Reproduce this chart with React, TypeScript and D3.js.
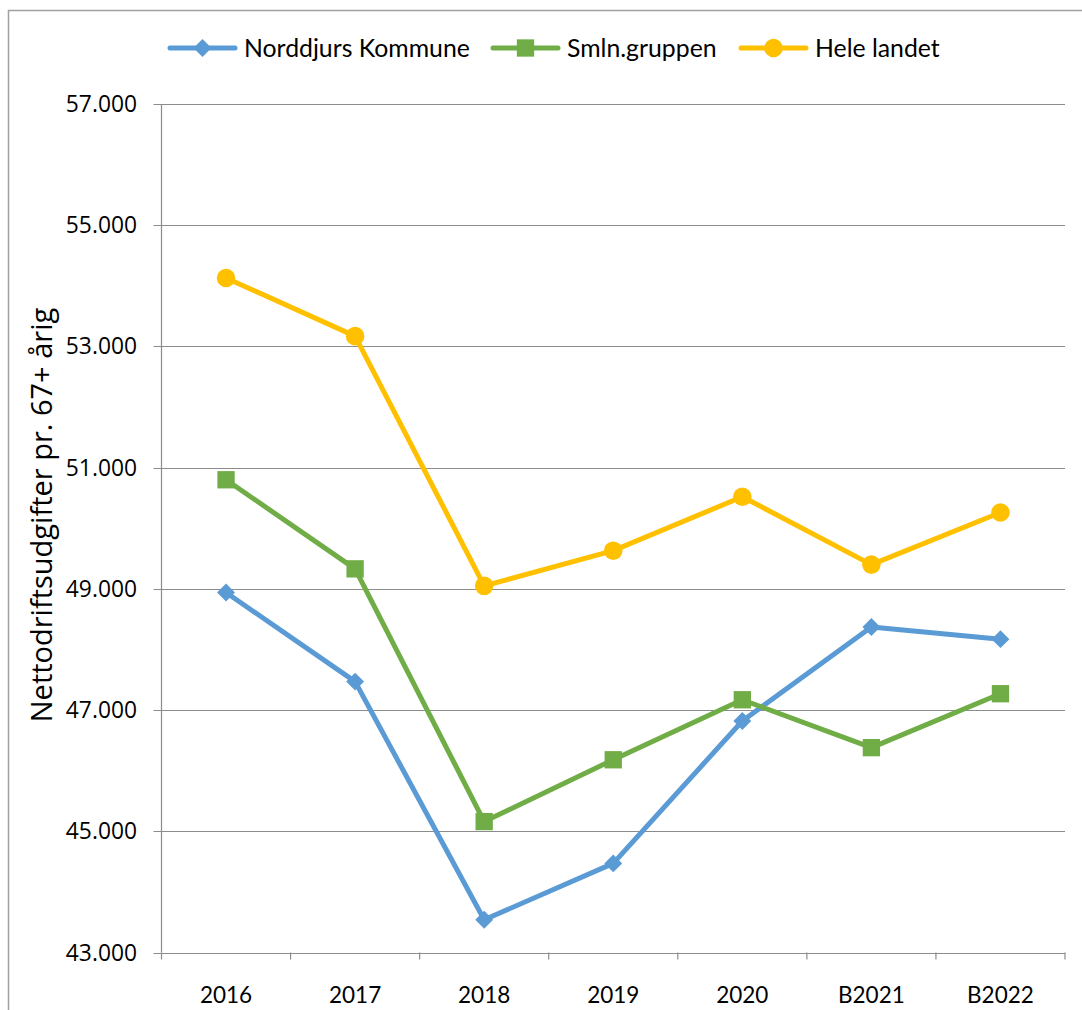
import React, { useRef, useEffect } from "react";
import * as d3 from "d3";

const categories = ["2016", "2017", "2018", "2019", "2020", "B2021", "B2022"];
const norddjurs = [48940, 47470, 43540, 44470, 46820, 48370, 48170];
const smlnGruppen = [50800, 49330, 45160, 46180, 47170, 46380, 47270];
const heleLandet = [54130, 53170, 49050, 49630, 50520, 49400, 50260];
const yTicks = [43000, 45000, 47000, 49000, 51000, 53000, 55000, 57000];
const yTitle = "Nettodriftsudgifter pr. 67+ årig";

const seriesNames = ["Norddjurs Kommune", "Smln.gruppen", "Hele landet"];
const seriesColors = ["#5B9BD5", "#70AD47", "#FFC000"];
const seriesShapes = ["diamond", "square", "circle"];

const App = () => {
    const d3Ref = useRef<SVGSVGElement>(null);

    useEffect(() => {
        const width = 1082;
        const height = 1010;
        const left = 161.5;
        const right = 1065;
        const top = 104;
        const bottom = 952.5;

        const svg = d3.select(d3Ref.current);
        svg.selectAll("*").remove();

        // outer chart border (cut off on right/bottom)
        svg.append("rect")
            .attr("x", 8.5).attr("y", 10.5)
            .attr("width", width + 20).attr("height", height + 20)
            .attr("fill", "white")
            .attr("stroke", "#a0a0a0")
            .attr("stroke-width", 1.5);

        const x = d3.scaleBand().domain(categories).range([left, right]);
        const y = d3.scaleLinear().domain([43000, 57000]).range([bottom, top]);
        const fmt = (v: number) => d3.format(",")(v).replace(/,/g, ".");

        // gridlines
        svg.append("g")
            .selectAll("line")
            .data(yTicks)
            .join("line")
            .attr("x1", left - 8).attr("x2", right)
            .attr("y1", d => Math.round(y(d)) + 0.5)
            .attr("y2", d => Math.round(y(d)) + 0.5)
            .attr("stroke", "#8c8c8c")
            .attr("stroke-width", 1.2);

        // y axis line
        svg.append("line")
            .attr("x1", left).attr("x2", left)
            .attr("y1", top).attr("y2", bottom)
            .attr("stroke", "#8c8c8c").attr("stroke-width", 1.2);

        // x axis tick marks
        const xTickPos = categories.map(c => x(c) as number).concat([right]);
        svg.append("g")
            .selectAll("line")
            .data(xTickPos)
            .join("line")
            .attr("x1", d => d).attr("x2", d => d)
            .attr("y1", bottom).attr("y2", bottom + 7)
            .attr("stroke", "#8c8c8c").attr("stroke-width", 1.2);

        // y tick labels
        svg.append("g")
            .selectAll("text")
            .data(yTicks)
            .join("text")
            .attr("x", 137)
            .attr("y", d => y(d) + 8)
            .attr("text-anchor", "end")
            .attr("font-family", "Open Sans, sans-serif")
            .attr("font-size", 22.8)
            .attr("fill", "#000")
            .text(d => fmt(d));

        // x tick labels
        svg.append("g")
            .selectAll("text")
            .data(categories)
            .join("text")
            .attr("x", d => (x(d) as number) + x.bandwidth() / 2)
            .attr("y", 1003)
            .attr("text-anchor", "middle")
            .attr("font-family", "Lato, sans-serif")
            .attr("font-size", 22.5)
            .attr("fill", "#000")
            .text(d => d);

        // y title, sized so it spans the same length as the original
        const title = svg.append("text")
            .attr("transform", `translate(52, 515) rotate(-90)`)
            .attr("text-anchor", "middle")
            .attr("font-family", "Open Sans, sans-serif")
            .attr("font-size", 26)
            .attr("fill", "#000")
            .text(yTitle);
        const len = (title.node() as SVGTextElement).getComputedTextLength();
        if (len > 0) title.attr("font-size", Math.min(29, 26 * 415 / len));

        const allSeries = [norddjurs, smlnGruppen, heleLandet];
        const line = d3.line<number>()
            .x((d, i) => (x(categories[i]) as number) + x.bandwidth() / 2)
            .y(d => y(d));

        const symbolFor = (shape: string) => {
            if (shape === "diamond") return d3.symbol().type(d3.symbolSquare).size(160)();
            if (shape === "square") return d3.symbol().type(d3.symbolSquare).size(300)();
            return d3.symbol().type(d3.symbolCircle).size(270)();
        };

        allSeries.forEach((values, si) => {
            const g = svg.append("g");
            g.append("path")
                .attr("d", line(values))
                .attr("fill", "none")
                .attr("stroke", seriesColors[si])
                .attr("stroke-width", 5)
                .attr("stroke-linejoin", "round")
                .attr("stroke-linecap", "round");
            g.selectAll("path.mark")
                .data(values)
                .join("path")
                .attr("class", "mark")
                .attr("d", symbolFor(seriesShapes[si]))
                .attr("transform", (d, i) => {
                    const cx = (x(categories[i]) as number) + x.bandwidth() / 2;
                    const rot = seriesShapes[si] === "diamond" ? " rotate(45)" : "";
                    return `translate(${cx},${y(d)})${rot}`;
                })
                .attr("fill", seriesColors[si]);
        });

        // legend
        const legendX = [170, 493, 741];
        const legendY = 48;
        seriesNames.forEach((name, si) => {
            const g = svg.append("g").attr("transform", `translate(${legendX[si]},${legendY})`);
            g.append("line")
                .attr("x1", 0).attr("x2", 65)
                .attr("y1", 0).attr("y2", 0)
                .attr("stroke", seriesColors[si])
                .attr("stroke-width", 5)
                .attr("stroke-linecap", "round");
            g.append("path")
                .attr("d", symbolFor(seriesShapes[si]))
                .attr("transform", `translate(32.5,0)${seriesShapes[si] === "diamond" ? " rotate(45)" : ""}`)
                .attr("fill", seriesColors[si]);
            g.append("text")
                .attr("x", 74)
                .attr("y", 8.5)
                .attr("font-family", "Lato, sans-serif")
                .attr("font-size", 24.8)
                .attr("fill", "#000")
                .text(name);
        });
    }, []);

    return <svg ref={d3Ref} width={1082} height={1010}
        style={{ position: "absolute", left: 0, top: 0, display: "block" }} />;
};

export default App;
